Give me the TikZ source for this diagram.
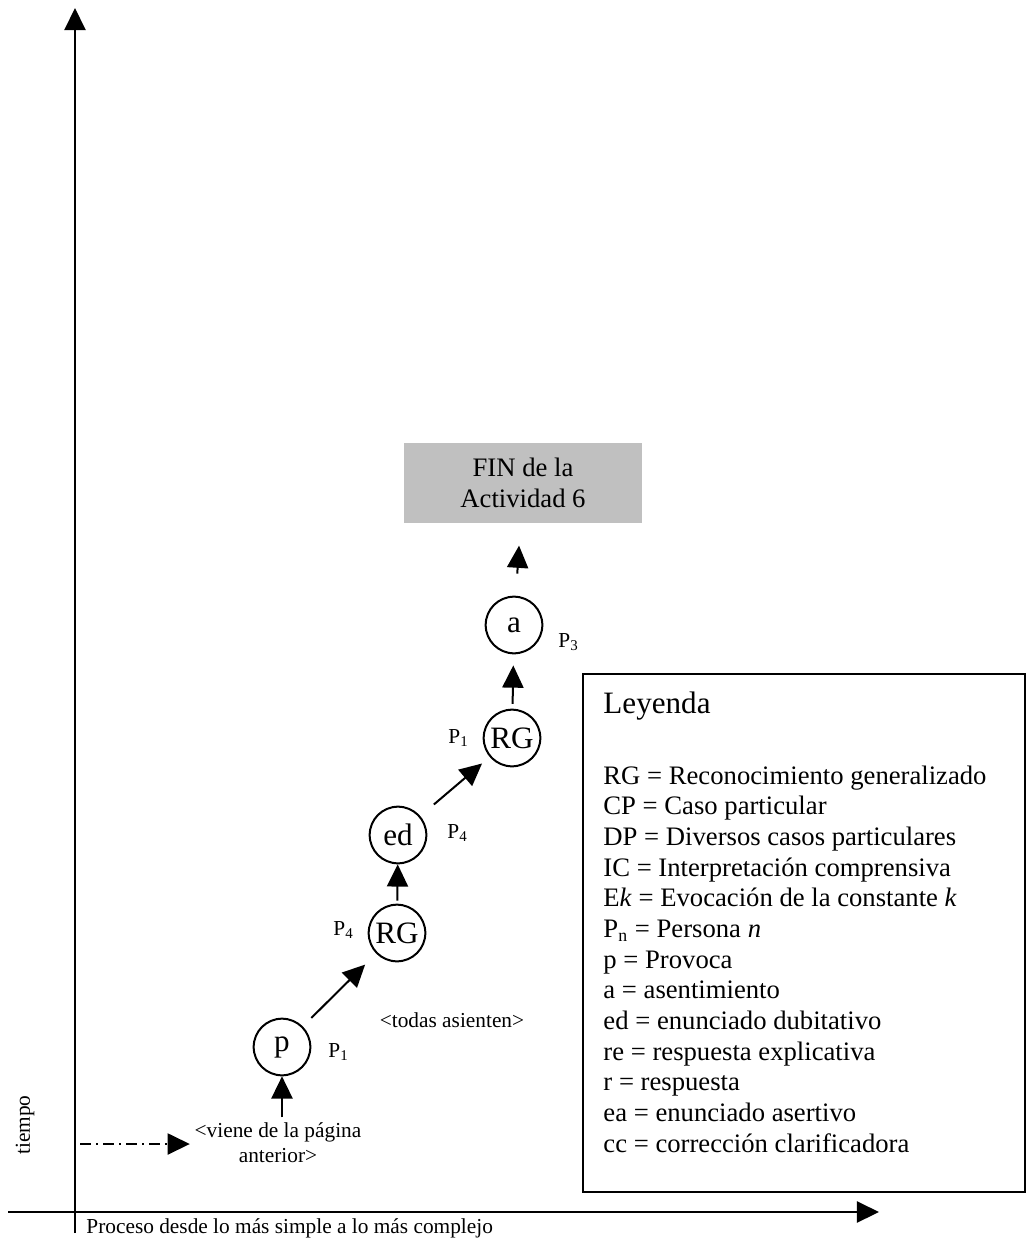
\documentclass[tikz,border=0pt]{standalone}
\usepackage{fontspec}
\setmainfont{Liberation Serif}
\usetikzlibrary{arrows.meta, positioning, calc}
\definecolor{boxgray}{RGB}{192,192,192}

\begin{document}
\begin{tikzpicture}[
    x=0.45pt, y=-0.45pt,
    state/.style={
        circle,
        draw=black,
        line width=0.9pt,
        minimum size=25.5pt,
        inner sep=0.5pt,
        font=\fontsize{14}{16}\selectfont
    },
    endbox/.style={
        rectangle,
        fill=boxgray,
        minimum width=107.1pt,
        minimum height=36pt,
        align=center,
        font=\fontsize{12}{14}\selectfont
    },
    legbox/.style={
        rectangle,
        draw=black,
        line width=1pt,
        minimum width=198.9pt,
        minimum height=233.1pt
    },
    arrow/.style={
        -{Triangle[length=10pt, width=9.5pt]},
        line width=0.9pt,
        draw=black
    },
    axis/.style={
        arrow,
        line width=1.1pt
    },
    person/.style={
        inner sep=0pt,
        anchor=base west,
        font=\fontsize{9.6}{11}\selectfont
    },
    note/.style={
        inner sep=0pt,
        align=center,
        font=\fontsize{9.6}{11.2}\selectfont
    },
    legline/.style={
        inner sep=0pt,
        anchor=base west,
        font=\fontsize{12}{14}\selectfont
    }
]
\useasboundingbox (0,0) rectangle (1027,1245);

% axes
\coordinate (xstart) at (8,1212);
\coordinate (xend) at (879,1212);
\coordinate (ystart) at (75,1233);
\coordinate (yend) at (75,8);
\draw[axis] (xstart) -- (xend);
\draw[axis] (ystart) -- (yend);
\node[note, rotate=90] (tiempo) at (25,1125) {tiempo};
\node[person] (proceso) at (86,1233) {Proceso desde lo más simple a lo más complejo};

% chain of turns
\node[state] (p) at (282,1047) {p};
\node[state] (rga) at (397,933) {RG};
\node[state] (ed) at (398,835) {ed};
\node[state] (rgb) at (512,738) {RG};
\node[state] (a) at (514,625) {a};
\node[endbox] (fin) at (523,483) {FIN de la\\Actividad 6};

\node[note, anchor=base] (viene) at (278,1162) {<viene de la página\\anterior>};
\coordinate (prev) at (80,1144);
\node[note, anchor=base] (todas) at (452,1027) {<todas asienten>};

\draw[arrow, dash pattern=on 5pt off 2.25pt on 0.9pt off 2.25pt] (prev) -- ([xshift=-2pt]prev -| viene.west);
\draw[arrow, shorten <=2pt] (viene.north -| p) -- (p);
\draw[arrow, shorten <=5.4pt, shorten >=7pt] (p) -- (rga);
\draw[arrow, shorten <=1.4pt] (rga) -- (ed);
\draw[arrow, shorten <=8pt, shorten >=4.5pt] (ed) -- (rgb);
\draw[arrow, shorten <=2.2pt, shorten >=5pt] (rgb) -- (a);
\draw[arrow, shorten <=10pt, shorten >=10pt] (a) -- (fin);

% speakers
\node[person] (s1) at (328,1057) {P\textsubscript{1}};
\node[person] (s2) at (333,935) {P\textsubscript{4}};
\node[person] (s3) at (447,838) {P\textsubscript{4}};
\node[person] (s4) at (448,743) {P\textsubscript{1}};
\node[person] (s5) at (558,647) {P\textsubscript{3}};

% legend
\node[legbox] (leyenda) at (804,933) {};
\node[legline, font=\fontsize{14}{16}\selectfont] (legtitle) at (603,713) {Leyenda};
\foreach \txt [count=\i] in {
    RG = Reconocimiento generalizado,
    CP = Caso particular,
    DP = Diversos casos particulares,
    IC = Interpretación comprensiva,
    E\textit{k} = Evocación de la constante \textit{k},
    P\textsubscript{n} = Persona \textit{n},
    p = Provoca,
    a = asentimiento,
    ed = enunciado dubitativo,
    re = respuesta explicativa,
    r = respuesta,
    ea = enunciado asertivo,
    cc = corrección clarificadora}
    \node[legline] (leg\i) at (603,{784+30.67*(\i-1)}) {\txt};

\end{tikzpicture}
\end{document}
